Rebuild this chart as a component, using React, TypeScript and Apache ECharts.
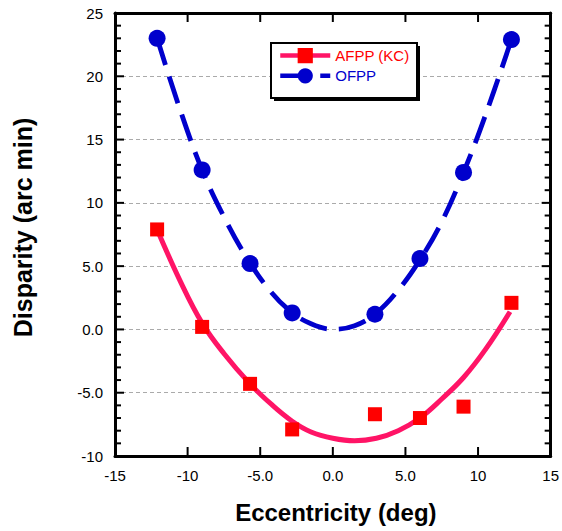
import React, { useEffect, useRef } from 'react';
import * as echarts from 'echarts';

// Measured points
const eccentricity = [-12.1, -9.0, -5.7, -2.8, 2.9, 6.0, 9.0, 12.3];
const afppValues = [7.9, 0.2, -4.3, -7.9, -6.7, -7.0, -6.1, 2.1];
const ofppValues = [23.0, 12.6, 5.2, 1.3, 1.2, 5.6, 12.4, 22.9];

// Fitted curves
const afppFitX = [-12.1, -10.5, -9.0, -7.5, -5.7, -4.2, -2.8, -1.5, 0, 1.5, 3.0, 4.5, 6.0, 7.5, 9.0, 10.5, 12.2];
const afppFitY = [7.9, 3.8, 0.5, -1.9, -4.3, -5.95, -7.25, -8.1, -8.6, -8.8, -8.6, -8.0, -7.0, -5.5, -3.8, -1.6, 1.4];
const ofppFitX = [-12.1, -10.5, -9.0, -7.5, -6.0, -4.5, -3.0, -1.5, 0, 1.5, 3.0, 4.5, 6.0, 7.5, 9.0, 10.5, 12.3];
const ofppFitY = [23.0, 17.3, 12.6, 8.9, 5.8, 3.3, 1.5, 0.45, 0.02, 0.3, 1.3, 3.1, 5.5, 8.5, 12.4, 16.9, 22.9];

// Tick labels and tick positions
const xTickLabels = ['-15', '-10', '-5.0', '0.0', '5.0', '10', '15'];
const yTickLabels = ['-10', '-5.0', '0.0', '5.0', '10', '15', '20', '25'];
const xTickValues = [-10, -5, 0, 5, 10];
const yTickValues = [-9, -8, -7, -6, -5, -4, -3, -2, -1, 0, 1, 2, 3, 4, 5, 6, 7, 8, 9, 10, 11, 12, 13, 14, 15, 16, 17, 18, 19, 20, 21, 22, 23, 24];

const X_MIN = -15;
const X_MAX = 15;
const Y_MIN = -10;
const Y_MAX = 25;
const STEP = 5;

const FONT = 'Liberation Sans, Arial, Helvetica, sans-serif';

const mkAxisLine = () => ({ show: true, onZero: false, lineStyle: { color: '#000', width: 3 } });

export default function App() {
  const ref = useRef<HTMLDivElement>(null);

  useEffect(() => {
    if (!ref.current) return;
    const chart = echarts.init(ref.current, undefined, { renderer: 'svg' });

    const xFmt = (v: number) => xTickLabels[Math.round((v - X_MIN) / STEP)] ?? String(v);
    const yFmt = (v: number) => yTickLabels[Math.round((v - Y_MIN) / STEP)] ?? String(v);
    const tickFill = () => ({ fill: '#000' });

    chart.setOption({
      animation: false,
      backgroundColor: '#fff',
      grid: { left: 115, right: 9, top: 13, bottom: 75, containLabel: false },
      xAxis: [
        {
          type: 'value', min: X_MIN, max: X_MAX, interval: STEP, position: 'bottom',
          axisLine: mkAxisLine(), axisTick: { show: false },
          axisLabel: { margin: 12, fontSize: 15, color: '#000', fontFamily: FONT, formatter: xFmt, showMinLabel: true, showMaxLabel: true },
          splitLine: { show: false },
          name: 'Eccentricity (deg)', nameLocation: 'middle', nameGap: 44,
          nameTextStyle: { fontSize: 24, fontWeight: 'bold', color: '#000', fontFamily: FONT, padding: [0, 0, 0, 6] },
        },
        {
          type: 'value', min: X_MIN, max: X_MAX, interval: STEP, position: 'top',
          axisLine: mkAxisLine(), axisTick: { show: false }, axisLabel: { show: false }, splitLine: { show: false },
        },
      ],
      yAxis: [
        {
          type: 'value', min: Y_MIN, max: Y_MAX, interval: STEP, position: 'left',
          axisLine: mkAxisLine(), axisTick: { show: false },
          axisLabel: { margin: 12, fontSize: 15, color: '#000', fontFamily: FONT, formatter: yFmt, showMinLabel: true, showMaxLabel: true },
          splitLine: { show: true, lineStyle: { color: '#aaaaaa', width: 1, type: [4, 3] } },
          name: 'Disparity (arc min)', nameLocation: 'middle', nameGap: 80,
          nameTextStyle: { fontSize: 25, fontWeight: 'bold', color: '#000', fontFamily: FONT, padding: [0, 0, 0, 14] },
        },
        {
          type: 'value', min: Y_MIN, max: Y_MAX, interval: STEP, position: 'right',
          axisLine: mkAxisLine(), axisTick: { show: false }, axisLabel: { show: false }, splitLine: { show: false },
        },
      ],
      graphic: [
        { type: 'rect', z: 10, shape: { x: 274, y: 46, width: 146, height: 55 }, style: { fill: '#000' } },
        { type: 'rect', z: 11, shape: { x: 271, y: 43, width: 146, height: 55 }, style: { fill: '#fff', stroke: '#000', lineWidth: 2 } },
      ],
      legend: {
        z: 12,
        orient: 'vertical',
        left: 278,
        top: 48,
        padding: 0,
        itemWidth: 50,
        itemHeight: 19,
        itemGap: 5,
        textStyle: { fontSize: 15, fontFamily: FONT },
        data: [
          { name: 'AFPP (KC)', textStyle: { color: '#ff0000' }, lineStyle: { width: 4.5 } },
          { name: 'OFPP', textStyle: { color: '#0000cc' }, lineStyle: { width: 4.5 } },
        ],
      },
      series: [
        {
          name: 'AFPP (KC)', type: 'line', smooth: 0.4, showSymbol: false, symbol: 'rect',
          data: afppFitX.map((x, i) => [x, afppFitY[i]]),
          lineStyle: { color: '#ff1466', width: 5 },
          itemStyle: { color: '#ff0000' },
          z: 2, silent: true,
        },
        {
          name: 'OFPP', type: 'line', smooth: 0.4, showSymbol: false, symbol: 'circle',
          data: ofppFitX.map((x, i) => [x, ofppFitY[i]]),
          lineStyle: { color: '#0000cc', width: 4.8, type: [28, 12], cap: 'butt' },
          itemStyle: { color: '#0000cc' },
          z: 2, silent: true,
        },
        {
          name: 'AFPP (KC)', type: 'scatter', symbol: 'rect', symbolSize: 14,
          data: eccentricity.map((x, i) => [x, afppValues[i]]),
          itemStyle: { color: '#ff0000', opacity: 1 },
          z: 3,
        },
        {
          name: 'OFPP', type: 'scatter', symbol: 'circle', symbolSize: 17,
          data: eccentricity.map((x, i) => [x, ofppValues[i]]),
          itemStyle: { color: '#0000cc', opacity: 1 },
          z: 3,
        },
        {
          type: 'custom', silent: true, z: 5, clip: false,
          data: xTickValues.map((v) => [v, Y_MIN]),
          renderItem: (_p: any, api: any) => {
            const v = api.value(0);
            const b = api.coord([v, Y_MIN]);
            const t = api.coord([v, Y_MAX]);
            return {
              type: 'group',
              children: [
                { type: 'rect', shape: { x: b[0] - 1, y: b[1] - 9, width: 2, height: 9 }, style: tickFill() },
                { type: 'rect', shape: { x: t[0] - 1, y: t[1], width: 2, height: 9 }, style: tickFill() },
              ],
            };
          },
        },
        {
          type: 'custom', silent: true, z: 5, clip: false,
          data: yTickValues.map((v) => [X_MIN, v]),
          renderItem: (_p: any, api: any) => {
            const v = api.value(1);
            const len = Math.abs(v % STEP) < 1e-9 ? 9 : 6;
            const l = api.coord([X_MIN, v]);
            const r = api.coord([X_MAX, v]);
            return {
              type: 'group',
              children: [
                { type: 'rect', shape: { x: l[0], y: l[1] - 1, width: len, height: 2 }, style: tickFill() },
                { type: 'rect', shape: { x: r[0] - len, y: r[1] - 1, width: len, height: 2 }, style: tickFill() },
              ],
            };
          },
        },
      ],
    });

    return () => chart.dispose();
  }, []);

  return (
    <div
      ref={ref}
      style={{ position: 'fixed', left: 0, top: 0, width: 562, height: 531, background: '#fff' }}
    />
  );
}
